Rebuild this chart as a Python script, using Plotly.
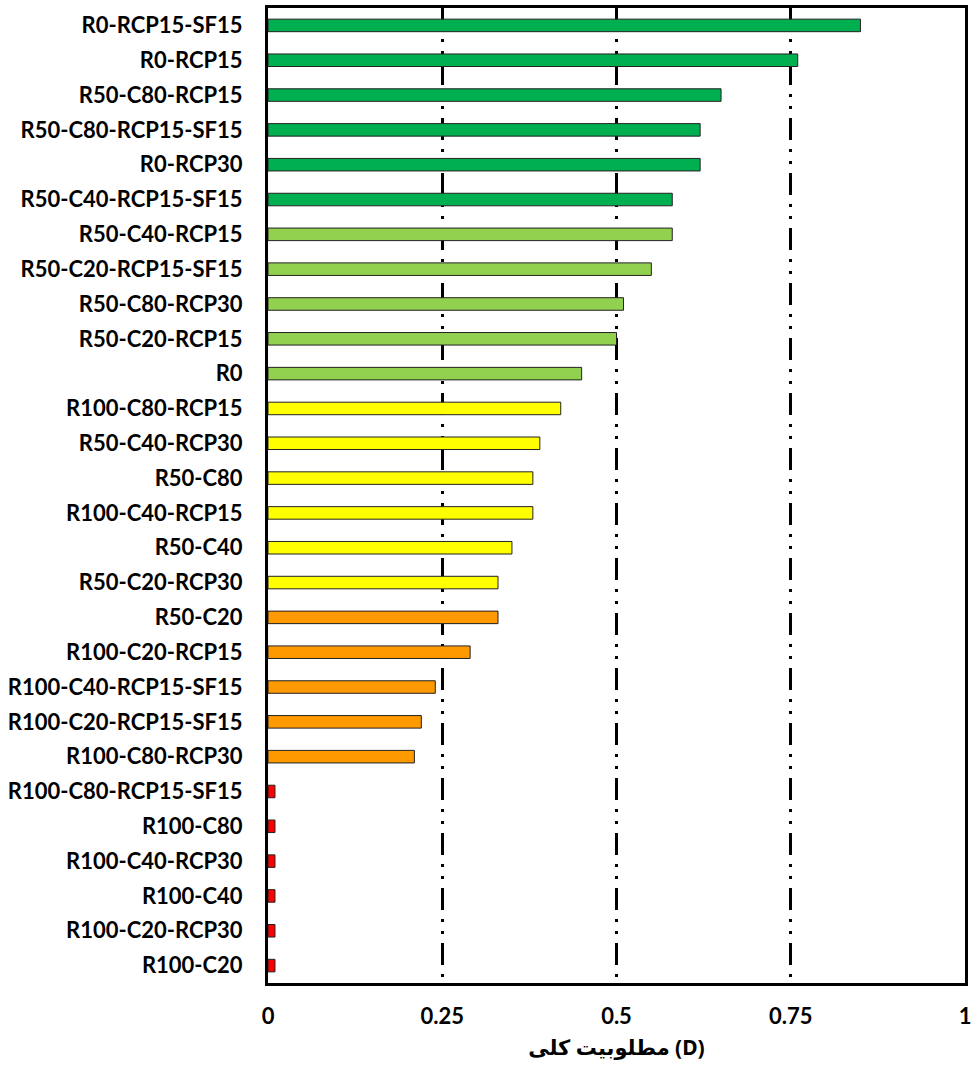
import plotly.graph_objects as go

categories = [
    "R0-RCP15-SF15", "R0-RCP15", "R50-C80-RCP15", "R50-C80-RCP15-SF15", "R0-RCP30",
    "R50-C40-RCP15-SF15", "R50-C40-RCP15", "R50-C20-RCP15-SF15", "R50-C80-RCP30",
    "R50-C20-RCP15", "R0", "R100-C80-RCP15", "R50-C40-RCP30", "R50-C80",
    "R100-C40-RCP15", "R50-C40", "R50-C20-RCP30", "R50-C20", "R100-C20-RCP15",
    "R100-C40-RCP15-SF15", "R100-C20-RCP15-SF15", "R100-C80-RCP30",
    "R100-C80-RCP15-SF15", "R100-C80", "R100-C40-RCP30", "R100-C40",
    "R100-C20-RCP30", "R100-C20",
]
values = [
    0.85, 0.76, 0.65, 0.62, 0.62,
    0.58, 0.58, 0.55, 0.51,
    0.50, 0.45, 0.42, 0.39, 0.38,
    0.38, 0.35, 0.33, 0.33, 0.29,
    0.24, 0.22, 0.21,
    0.01, 0.01, 0.01, 0.01,
    0.01, 0.01,
]
groups = ["dg"] * 6 + ["lg"] * 5 + ["ye"] * 6 + ["or"] * 5 + ["rd"] * 6
group_colors = {"dg": "#00B050", "lg": "#92D050", "ye": "#FFFF00", "or": "#FF9900", "rd": "#FF0000"}
colors = [group_colors[g] for g in groups]

x_tickvals = [0, 0.25, 0.5, 0.75, 1]
x_ticktext = ["0", "0.25", "0.5", "0.75", "1"]
x_title = "مطلوبیت کلی (D)"

font_family = "Lato, 'Noto Sans', 'DejaVu Sans', sans-serif"

fig = go.Figure(go.Bar(
    x=values, y=categories, orientation="h",
    marker=dict(color=colors, line=dict(color="#222222", width=1)),
))

fig.update_layout(
    width=972, height=1072,
    margin=dict(l=268, r=7, t=8, b=89),
    paper_bgcolor="white", plot_bgcolor="white",
    bargap=0.64,
    showlegend=False,
    font=dict(family=font_family, size=22, color="black"),
)
fig.update_xaxes(
    range=[0, 1], tickvals=x_tickvals, ticktext=x_ticktext,
    tickfont=dict(family=font_family, size=22, color="black", weight="bold"),
    showgrid=True, gridcolor="black", gridwidth=2.5,
    griddash="22px,9px,3px,9px,3px,9px",
    showline=True, linecolor="black", linewidth=3, mirror=True,
    ticks="", ticklabelstandoff=12, zeroline=False, automargin=False,
    title=dict(text=x_title, font=dict(family="'Noto Sans', 'DejaVu Sans', sans-serif", size=21, color="black", weight="bold"), standoff=12),
)
fig.update_yaxes(
    autorange="reversed",
    tickfont=dict(family=font_family, size=22, color="black", weight="bold"),
    showline=True, linecolor="black", linewidth=3, mirror=True,
    showgrid=False, ticks="", ticklabelstandoff=18, automargin=False,
)

fig.write_html(
    "out.html",
    config={"displayModeBar": False},
    post_script="document.body.style.margin='0';document.body.style.overflow='hidden';",
)
